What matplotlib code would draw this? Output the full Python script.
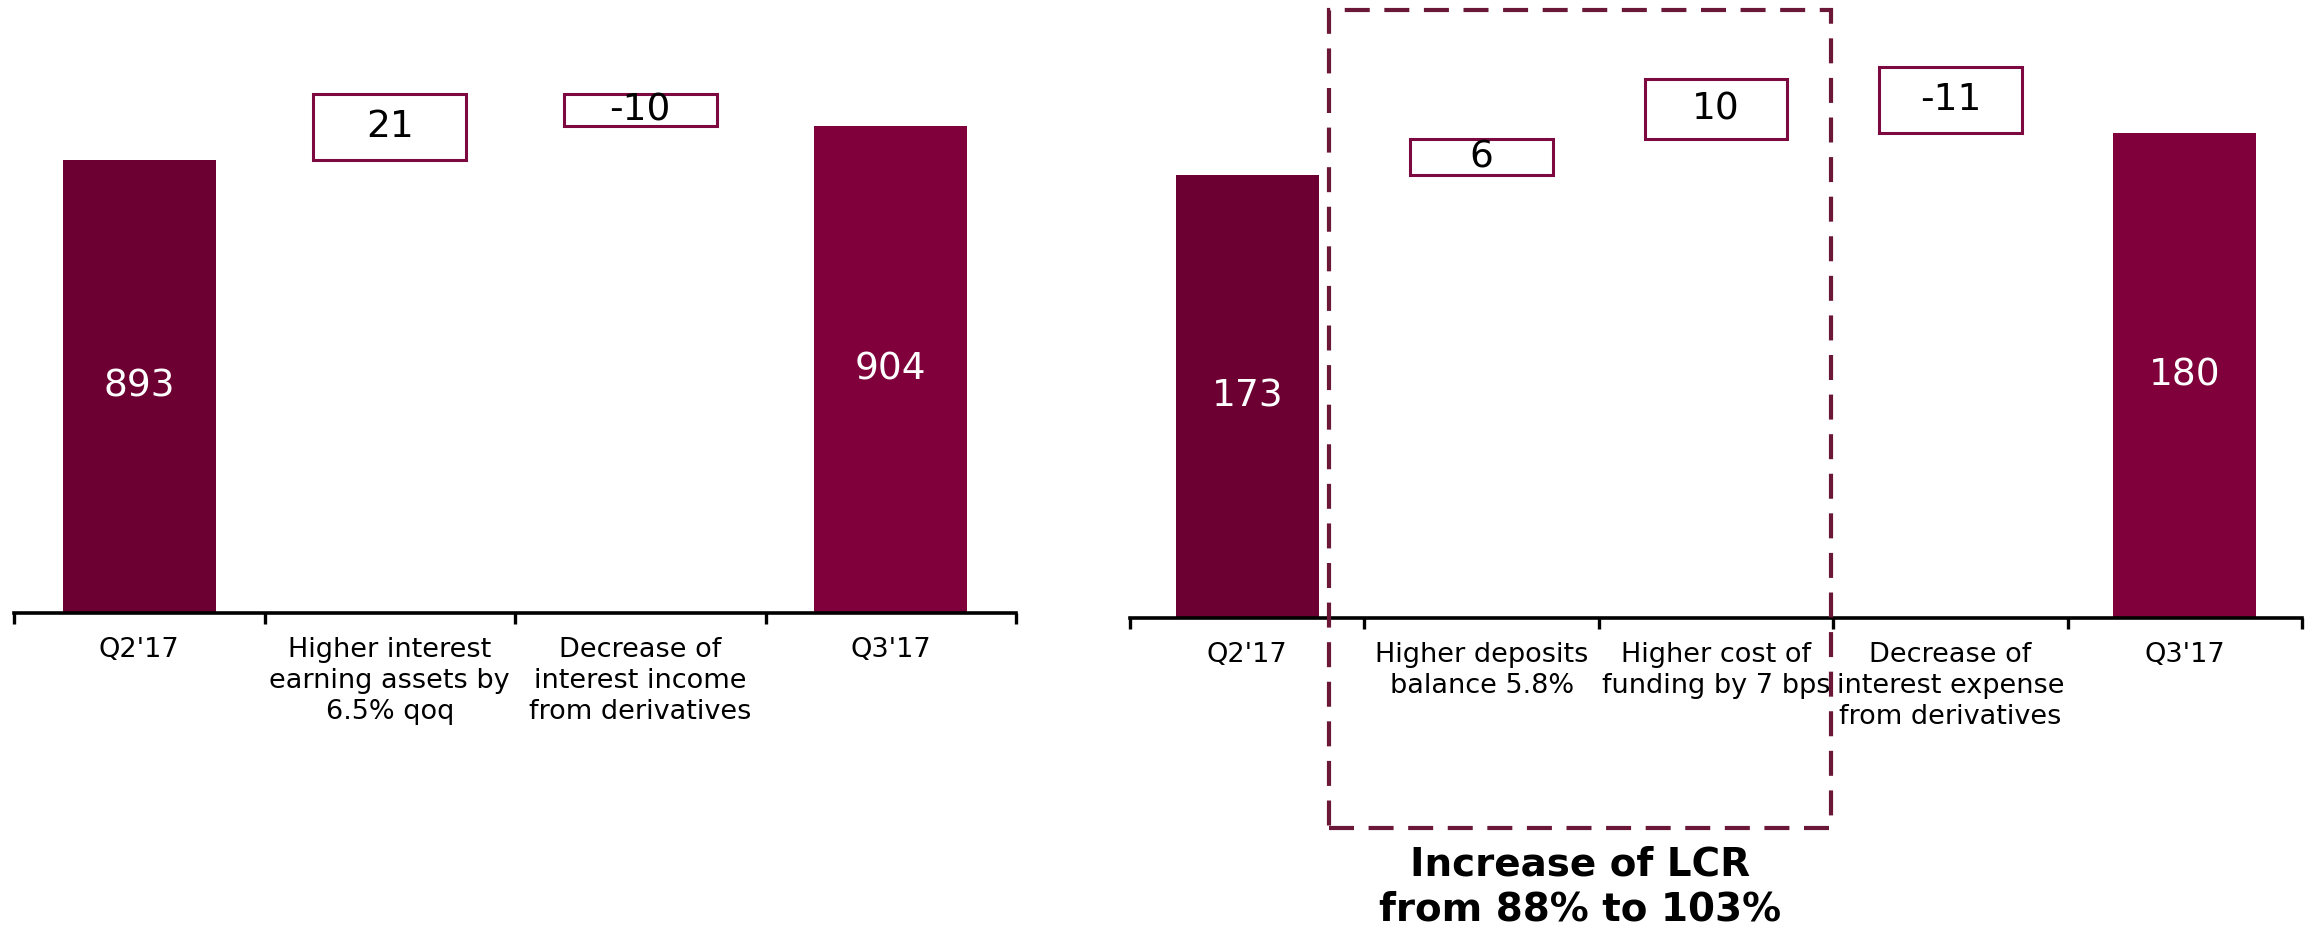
import matplotlib.pyplot as plt
from matplotlib.patches import Rectangle
import matplotlib.transforms as mtransforms

# left panel: net interest income walk
left_labels = ["Q2'17", "Higher interest\nearning assets by\n6.5% qoq",
               "Decrease of\ninterest income\nfrom derivatives", "Q3'17"]
left_start = 893
left_steps = [21, -10]
left_end = 904

# right panel: interest expense walk
right_labels = ["Q2'17", "Higher deposits\nbalance 5.8%", "Higher cost of\nfunding by 7 bps",
                "Decrease of\ninterest expense\nfrom derivatives", "Q3'17"]
right_start = 173
right_steps = [6, 10, -11]
right_end = 180

lcr_note = "Increase of LCR\nfrom 88% to 103%"

dark_bar = "#6d0032"
end_bar = "#7f003a"
box_edge = "#7c0a40"
dash_col = "#6b1838"

plt.rcParams['font.family'] = ['DejaVu Sans']

W, H = 2318, 931
fig = plt.figure(figsize=(W / 100, H / 100), dpi=100)
fig.patch.set_facecolor("white")


def waterfall(ax, labels, start, steps, end, ymin, ymax):
    n = len(labels)
    xs = list(range(n))
    bw = 0.61
    ax.bar([0], [start], width=bw, color=dark_bar, zorder=2)
    ax.bar([n - 1], [end], width=bw, color=end_bar, zorder=2)
    for x, v in [(0, start), (n - 1, end)]:
        ax.text(x, (max(ymin, 0) + v) / 2, str(v), ha="center", va="center",
                color="white", fontsize=27, zorder=3)

    running = start
    for i, d in enumerate(steps, start=1):
        if d > 0:
            bottom = running
            running += d
        else:
            # decreases hang down onto the closing total
            bottom = end
        ax.bar([i], [abs(d)], bottom=bottom, width=bw, color="white",
               edgecolor=box_edge, linewidth=2.2, zorder=2)
        ax.text(i, bottom + abs(d) / 2, str(d), ha="center", va="center",
                color="black", fontsize=27, zorder=3)

    ax.set_xlim(-0.5, n - 0.5)
    ax.set_ylim(ymin, ymax)
    ax.patch.set_alpha(0)
    for s in ["top", "left", "right"]:
        ax.spines[s].set_visible(False)
    ax.spines["bottom"].set_linewidth(2.6)
    ax.spines["bottom"].set_zorder(4)
    ax.set_yticks([])
    ax.set_xticks([i - 0.5 for i in range(n + 1)])
    ax.set_xticklabels([])
    ax.tick_params(axis="x", which="major", direction="out", length=8,
                   width=2.4, color="black")
    ax.set_xticks(xs, minor=True)
    ax.set_xticklabels(labels, minor=True, fontsize=19.5, linespacing=1.25)
    ax.tick_params(axis="x", which="minor", length=0, pad=17)


ax1 = fig.add_axes([14 / W, 318 / H, 1002 / W, 613 / H])
waterfall(ax1, left_labels, left_start, left_steps, left_end, 747.8, 747.8 + 613 / 3.12)

ax2 = fig.add_axes([1130 / W, 313 / H, 1172 / W, 618 / H])
waterfall(ax2, right_labels, right_start, right_steps, right_end, 99.2, 99.2 + 618 / 6.0)

# dashed frame around the two LCR-related drivers
trans = mtransforms.blended_transform_factory(ax2.transData, fig.transFigure)
frame = Rectangle((0.35, 1 - 828 / H), 2.14, (828 - 10) / H, transform=trans,
                  fill=False, edgecolor=dash_col, linewidth=3,
                  linestyle=(0, (6, 3.5)), clip_on=False, zorder=5)
fig.add_artist(frame)
fig.text(1580 / W, 1 - 887 / H, lcr_note, ha="center", va="center",
         fontsize=28, fontweight="bold", linespacing=1.25)

fig.savefig("out.png", dpi=100, facecolor="white")
